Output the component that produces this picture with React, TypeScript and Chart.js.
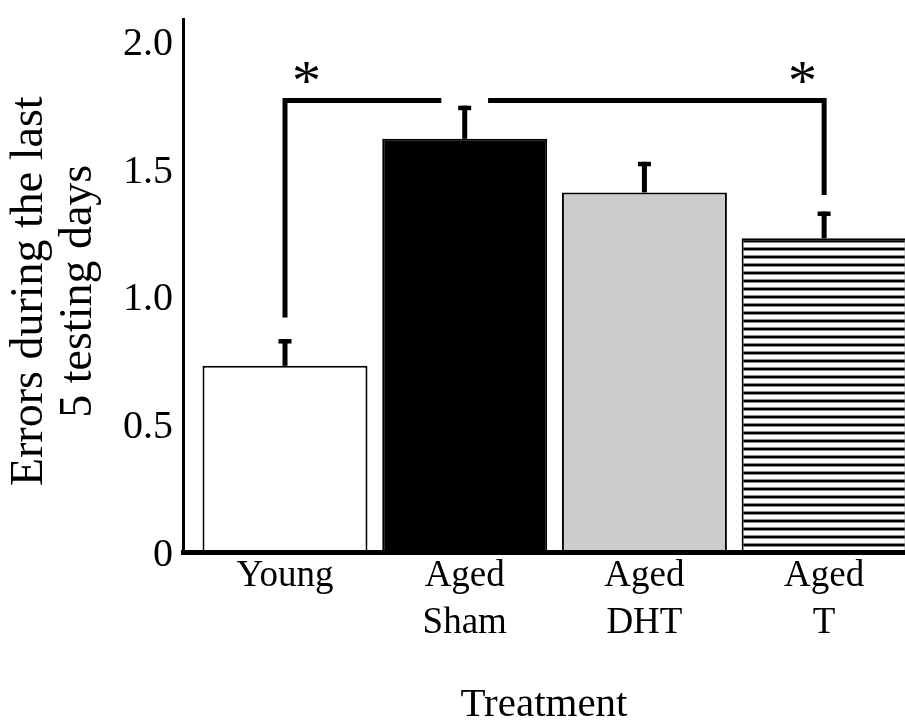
import React, { useEffect, useRef } from 'react';
import { Chart, registerables } from 'chart.js';

Chart.register(...registerables);

// ---- data ----
const CATEGORIES: string[][] = [['Young'], ['Aged', 'Sham'], ['Aged', 'DHT'], ['Aged', 'T']];
const MEANS: number[] = [0.73, 1.62, 1.41, 1.23];
const SEMS: number[] = [0.105, 0.13, 0.12, 0.105];
const Y_TICKS: number[] = [0, 0.5, 1.0, 1.5, 2.0];
const Y_TICK_LABELS: string[] = ['0', '0.5', '1.0', '1.5', '2.0'];
const Y_MAX = 2.09;
const X_MIN = -0.5676;
const X_MAX = 3.45;
const Y_TITLE: string[] = ['Errors during the last ', '5 testing days '];
const X_TITLE = 'Treatment';
// significance brackets: drop at group `drop`, run toward group `toward`
const BRACKET_Y = 1.77;
const BRACKET_DROPS: number[] = [0, 3];
const BRACKET_TOWARD: number[] = [1, 1];
const BRACKET_LOW: number[] = [0.92, 1.40];
const BRACKET_GAP = 0.13;
const STAR_OFFSET = 0.12;
const STAR_Y = 1.88;
const STAR_TEXT = '*';

const FAMILY = "'Liberation Serif', 'Times New Roman', serif";

const overlayPlugin = {
  id: 'errorsAndBrackets',
  afterDatasetsDraw(chart: any) {
    const ctx: CanvasRenderingContext2D = chart.ctx;
    const xs = chart.scales.x;
    const ys = chart.scales.y;
    ctx.save();
    ctx.fillStyle = '#000';
    MEANS.forEach((m, i) => {
      const cx = xs.getPixelForValue(i);
      const top = ys.getPixelForValue(m + SEMS[i]);
      const base = ys.getPixelForValue(m);
      ctx.fillRect(cx - 2.5, top, 5, base - top);
      ctx.fillRect(cx - 6.5, top, 13, 4.5);
    });
    ctx.strokeStyle = '#000';
    ctx.lineWidth = 5;
    ctx.lineJoin = 'miter';
    ctx.lineCap = 'butt';
    const yb = ys.getPixelForValue(BRACKET_Y);
    const starSize = 58;
    ctx.font = `${starSize}px ${FAMILY}`;
    ctx.textAlign = 'center';
    ctx.textBaseline = 'alphabetic';
    BRACKET_DROPS.forEach((d, k) => {
      const t = BRACKET_TOWARD[k];
      const dir = Math.sign(t - d);
      const xd = xs.getPixelForValue(d);
      const xe = xs.getPixelForValue(t - dir * BRACKET_GAP);
      ctx.beginPath();
      ctx.moveTo(xd, ys.getPixelForValue(BRACKET_LOW[k]));
      ctx.lineTo(xd, yb);
      ctx.lineTo(xe, yb);
      ctx.stroke();
      ctx.fillText(STAR_TEXT, xs.getPixelForValue(d + dir * STAR_OFFSET), ys.getPixelForValue(STAR_Y) + 0.47 * starSize);
    });
    ctx.restore();
  },
};

export default function App() {
  const ref = useRef<HTMLCanvasElement>(null);
  useEffect(() => {
    const canvas = ref.current!;
    const off = document.createElement('canvas');
    off.width = 4;
    off.height = 8;
    const octx = off.getContext('2d')!;
    const rows = ['#000', '#000', '#888', '#fff', '#fff', '#fff', '#fff', '#888'];
    rows.forEach((c, r) => {
      octx.fillStyle = c;
      octx.fillRect(0, r, 4, 1);
    });
    const pattern = canvas.getContext('2d')!.createPattern(off, 'repeat');

    const chart = new Chart(canvas, {
      type: 'bar',
      data: {
        datasets: [
          {
            data: MEANS.map((v, i) => ({ x: i, y: v })) as any,
            backgroundColor: ['#ffffff', '#000000', '#cccccc', pattern as any],
            borderColor: '#000',
            borderWidth: 2,
            barPercentage: 0.918,
            categoryPercentage: 1,
          },
        ],
      },
      options: {
        responsive: false,
        animation: false,
        devicePixelRatio: 1,
        layout: { padding: { top: 19, left: 0, right: 0, bottom: 0 } },
        plugins: {
          legend: { display: false },
          tooltip: { enabled: false },
          title: { display: false },
        },
        scales: {
          x: {
            type: 'linear',
            min: X_MIN,
            max: X_MAX,
            bounds: 'data',
            offset: false,
            grid: { display: false, drawTicks: false, offset: false },
            border: { display: true, color: '#000', width: 5, z: 1 },
            afterBuildTicks: (s: any) => {
              s.ticks = CATEGORIES.map((_, i) => ({ value: i }));
            },
            afterFit: (s: any) => {
              s.height = 168;
              s.paddingLeft = 0;
              s.paddingRight = 0;
            },
            ticks: {
              callback: (v: any) => CATEGORIES[v] ?? '',
              font: { family: FAMILY, size: 37, lineHeight: 1.27 },
              color: '#000',
              padding: 1,
              maxRotation: 0,
              autoSkip: false,
            },
            title: {
              display: true,
              text: X_TITLE,
              font: { family: FAMILY, size: 41, lineHeight: 0.7 },
              color: '#000',
              padding: 0,
            },
          },
          y: {
            min: 0,
            max: Y_MAX,
            bounds: 'data',
            grid: { display: false, drawTicks: false },
            border: { display: true, color: '#000', width: 3, z: 1 },
            afterBuildTicks: (s: any) => {
              s.ticks = Y_TICKS.map((v) => ({ value: v }));
            },
            afterFit: (s: any) => {
              s.width = 183;
              s.paddingTop = 0;
              s.paddingBottom = 0;
            },
            ticks: {
              callback: (_v: any, i: number) => Y_TICK_LABELS[i],
              font: { family: FAMILY, size: 40 },
              color: '#000',
              padding: 10,
              labelOffset: 3,
            },
            title: {
              display: true,
              text: Y_TITLE,
              font: { family: FAMILY, size: 46, lineHeight: 1.06 },
              color: '#000',
              padding: { top: 6, bottom: 0 },
            },
          },
        },
      },
      plugins: [overlayPlugin],
    } as any);
    return () => chart.destroy();
  }, []);

  return (
    <div
      style={{
        position: 'fixed',
        left: 0,
        top: 0,
        width: 905,
        height: 720,
        overflow: 'hidden',
        background: '#fff',
      }}
    >
      <canvas ref={ref} width={905} height={720} style={{ display: 'block' }} />
    </div>
  );
}
